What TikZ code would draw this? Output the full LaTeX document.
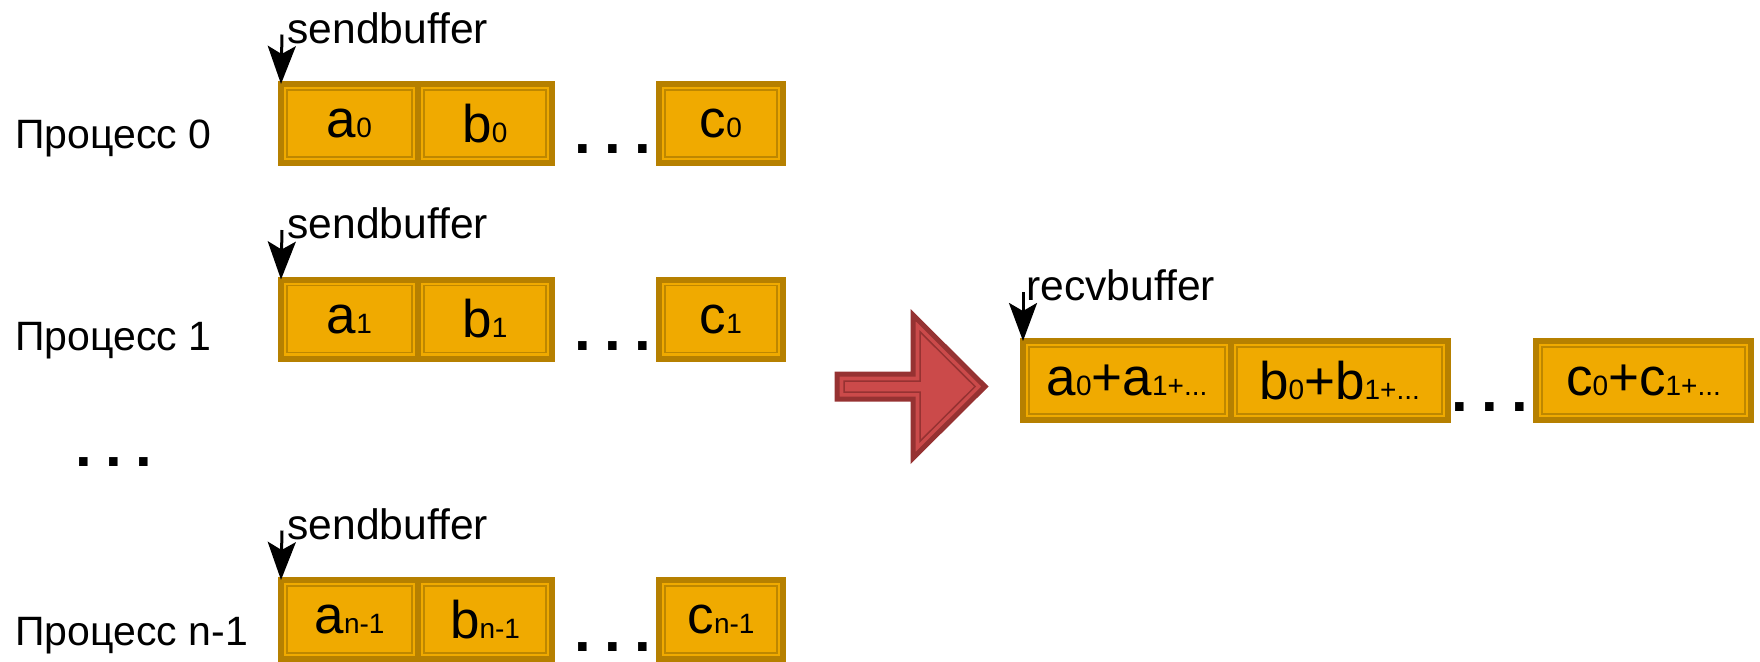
\documentclass[tikz,border=0pt]{standalone}
\usepackage{fontspec}
\setmainfont{Liberation Sans}
\usepackage{tikz}
\usepackage{xcolor}
\usetikzlibrary{arrows.meta}

\definecolor{cellfill}{RGB}{240,170,0}
\definecolor{cellrim}{RGB}{182,128,0}
\definecolor{cellline}{RGB}{190,135,0}
\definecolor{bigfill}{RGB}{203,74,74}
\definecolor{bigrim}{RGB}{150,50,50}
\newcommand{\lsmall}[1]{{\fontsize{14}{16}\selectfont #1}}
\newcommand{\bigdots}{.\hspace{6.6pt}.\hspace{6.6pt}.}

\begin{document}
\begin{tikzpicture}[x=0.5pt, y=-0.5pt,
  cell/.style={draw=cellrim, line width=3pt, fill=cellfill, inner sep=0pt,
    outer sep=0pt, minimum height=39.5pt,
    font=\fontsize{26.5}{30}\selectfont,
    path picture={\draw[cellline, line width=0.8pt]
      ([shift={(3pt,3pt)}]path picture bounding box.south west) rectangle
      ([shift={(-3pt,-3pt)}]path picture bounding box.north east);}},
  lab/.style={font=\fontsize{21.3}{24}\selectfont, inner sep=0pt},
  proc/.style={font=\fontsize{20.5}{24}\selectfont, inner sep=0pt, anchor=base west},
  dots/.style={font=\bfseries\fontsize{30}{32}\selectfont, inner sep=0pt, anchor=base},
  ptr/.style={-{Stealth[length=19pt, width=14pt, inset=4pt]}, line width=1.5pt}]
  \useasboundingbox (0,0) rectangle (1760,661);

  % Define cell coordinates
  \foreach \r/\y in {0/123.5,1/319,2/619.5}
  {
    \coordinate (A\r) at (349.5,\y);
    \coordinate (B\r) at (485,\y);
    \coordinate (C\r) at (721,\y);
    \coordinate (T\r) at (282,\y-89);
  }
  \coordinate (R1) at (1127,380.5);
  \coordinate (R2) at (1339.5,380.5);
  \coordinate (R3) at (1643.5,380.5);
  \coordinate (TR) at (1023,292);

  % Process labels
  \node[proc] (p0) at (15,148) {Процесс 0};
  \node[proc] (p1) at (15,350) {Процесс 1};
  \node[proc] (p2) at (15,645) {Процесс n-1};
  \node[dots] (pd) at (114,466) {\bigdots};

  % Send buffers
  \node[cell, minimum width=68.5pt] (a0) at (A0) {a\lsmall{0}};
  \node[cell, minimum width=67pt] (b0) at (B0) {b\lsmall{0}};
  \node[cell, minimum width=62pt] (c0) at (C0) {c\lsmall{0}};
  \node[dots] (d0) at (613,153) {\bigdots};

  \node[cell, minimum width=68.5pt] (a1) at (A1) {a\lsmall{1}};
  \node[cell, minimum width=67pt] (b1) at (B1) {b\lsmall{1}};
  \node[cell, minimum width=62pt] (c1) at (C1) {c\lsmall{1}};
  \node[dots] (d1) at (613,350) {\bigdots};

  \node[cell, minimum width=68.5pt] (a2) at (A2) {a\lsmall{n-1}};
  \node[cell, minimum width=67pt] (b2) at (B2) {b\lsmall{n-1}};
  \node[cell, minimum width=62pt] (c2) at (C2) {c\lsmall{n-1}};
  \node[dots] (d2) at (613,651) {\bigdots};

  \node[lab, anchor=base west] (s0) at (287,43) {sendbuffer};
  \node[lab, anchor=base west] (s1) at (287,238.5) {sendbuffer};
  \node[lab, anchor=base west] (s2) at (287,539) {sendbuffer};
  \draw[ptr] (T0) -- (a0.north west);
  \draw[ptr] (T1) -- (a1.north west);
  \draw[ptr] (T2) -- (a2.north west);

  % Big arrow
  \draw[bigrim, fill=bigfill, line width=2.5pt, line join=miter]
    (837,374) -- (913,374) -- (913,315) -- (985,386.5) -- (913,458)
    -- (913,399) -- (837,399) -- cycle;
  \draw[bigrim, line width=0.75pt]
    (844,381) -- (920,381) -- (920,331.8) -- (975.1,386.5) -- (920,441.2)
    -- (920,392) -- (844,392) -- cycle;

  % Receive buffer
  \node[cell, minimum width=104pt] (r1) at (R1) {a\lsmall{0}+a\lsmall{1+...}};
  \node[cell, minimum width=108.5pt] (r2) at (R2) {b\lsmall{0}+b\lsmall{1+...}};
  \node[cell, minimum width=107.5pt] (r3) at (R3) {c\lsmall{0}+c\lsmall{1+...}};
  \node[dots] (rd) at (1489.5,411) {\bigdots};
  \node[lab, anchor=base west] (rv) at (1026,300) {recvbuffer};
  \draw[ptr] (TR) -- (r1.north west);
\end{tikzpicture}
\end{document}
